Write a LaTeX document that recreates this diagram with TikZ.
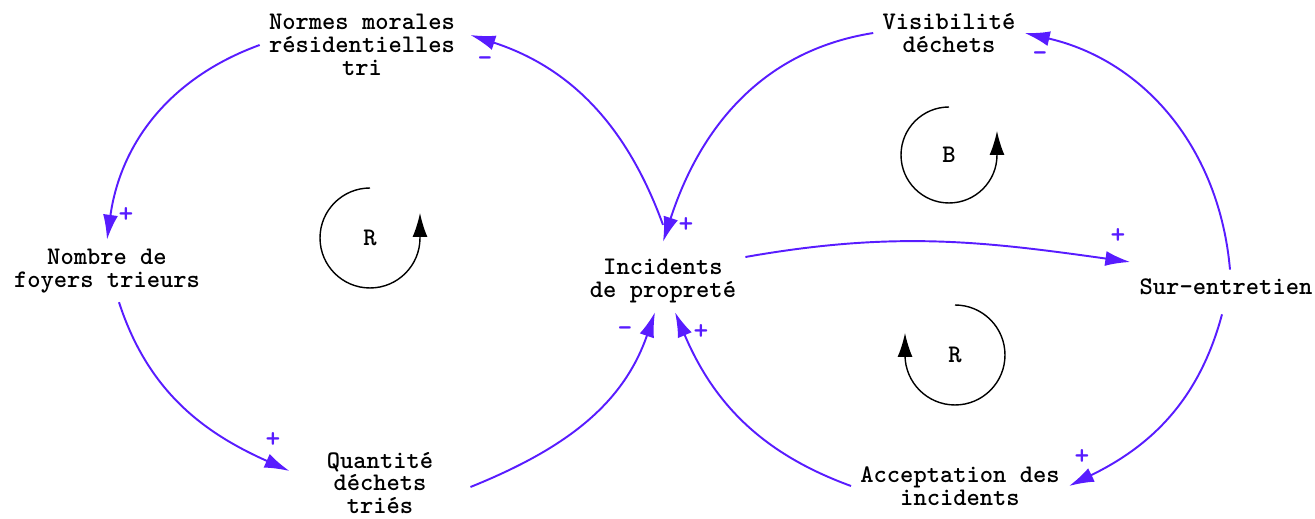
\documentclass[tikz,border=0pt]{standalone}
\usepackage{tikz}
\usetikzlibrary{arrows.meta, positioning}
\definecolor{linkcolor}{RGB}{88,28,255}

\begin{document}
\begin{tikzpicture}[
    x=0.02cm, y=0.02cm,
    var/.style={align=center, inner sep=0.18cm, font=\ttfamily\bfseries\fontsize{14.4}{12.9}\selectfont},
    link/.style={-{Latex[length=0.5cm, width=0.3cm]}, line width=1.1pt, draw=linkcolor},
    sign/.style={text=linkcolor, inner sep=0pt, font=\ttfamily\bfseries\fontsize{16}{16}\selectfont},
    loopmark/.style={-{Latex[length=0.48cm, width=0.3cm]}, line width=0.8pt, black},
    looplabel/.style={inner sep=0pt, font=\ttfamily\bfseries\fontsize{14.4}{14.4}\selectfont}
]
\useasboundingbox (0,0) rectangle (1315,518);

\node[var] (normes) at (362,473) {Normes morales\\résidentielles\\tri};
\node[var] (visib) at (949,485) {Visibilité\\déchets};
\node[var] (nombre) at (107,247) {Nombre de\\foyers trieurs};
\node[var] (incid) at (663,237) {Incidents\\de propreté};
\node[var] (sur) at (1226,231) {Sur-entretien};
\node[var] (quant) at (380,35) {Quantité\\déchets\\triés};
\node[var] (accept) at (960,32) {Acceptation des\\incidents};

\draw[link] (normes.west) to[out=200, in=82] (nombre.north);
\draw[link] ([xshift=0.24cm]nombre.south) to[out=-72, in=156] ([xshift=-0.56cm, yshift=0.24cm]quant.west);
\draw[link] ([xshift=0.56cm, yshift=-0.08cm]quant.east) to[out=22, in=-109] ([xshift=-0.16cm]incid.south);
\draw[link] ([yshift=0.5cm]incid.north) to[out=110, in=-18] ([xshift=0.12cm, yshift=0.2cm]normes.east);
\draw[link] (visib.west) to[out=189, in=72] ([yshift=0.16cm]incid.north);
\draw[link] ([yshift=0.48cm]incid.east) to[out=10, in=172] ([yshift=0.5cm]sur.west);
\draw[link] ([xshift=0.08cm]sur.north) to[out=95, in=-13] (visib.east);
\draw[link] ([xshift=-0.08cm, yshift=-0.2cm]sur.south) to[out=-105, in=26] (accept.east);
\draw[link] (accept.west) to[out=160, in=-67] ([xshift=0.24cm]incid.south);

\node[sign] (s1) at (126,303) {+};
\node[sign] (s2) at (273,78) {+};
\node[sign] (s3) at (625,186) {-};
\node[sign] (s4) at (701,186) {+};
\node[sign] (s5) at (686,293) {+};
\node[sign] (s6) at (485,456) {-};
\node[sign] (s7) at (1040,461) {-};
\node[sign] (s8) at (1118,282) {+};
\node[sign] (s9) at (1082,61) {+};

\draw[loopmark] (370,330) arc[start angle=90, end angle=360, radius=1cm] -- ++(0,25);
\node[looplabel] (loopr1) at (370,280) {R};
\draw[loopmark] (949,411) arc[start angle=90, end angle=360, radius=0.96cm] -- ++(0,24);
\node[looplabel] (loopb) at (949,363) {B};
\draw[loopmark] (955,213) arc[start angle=90, end angle=-180, radius=1cm] -- ++(0,22);
\node[looplabel] (loopr2) at (955,163) {R};
\end{tikzpicture}
\end{document}
